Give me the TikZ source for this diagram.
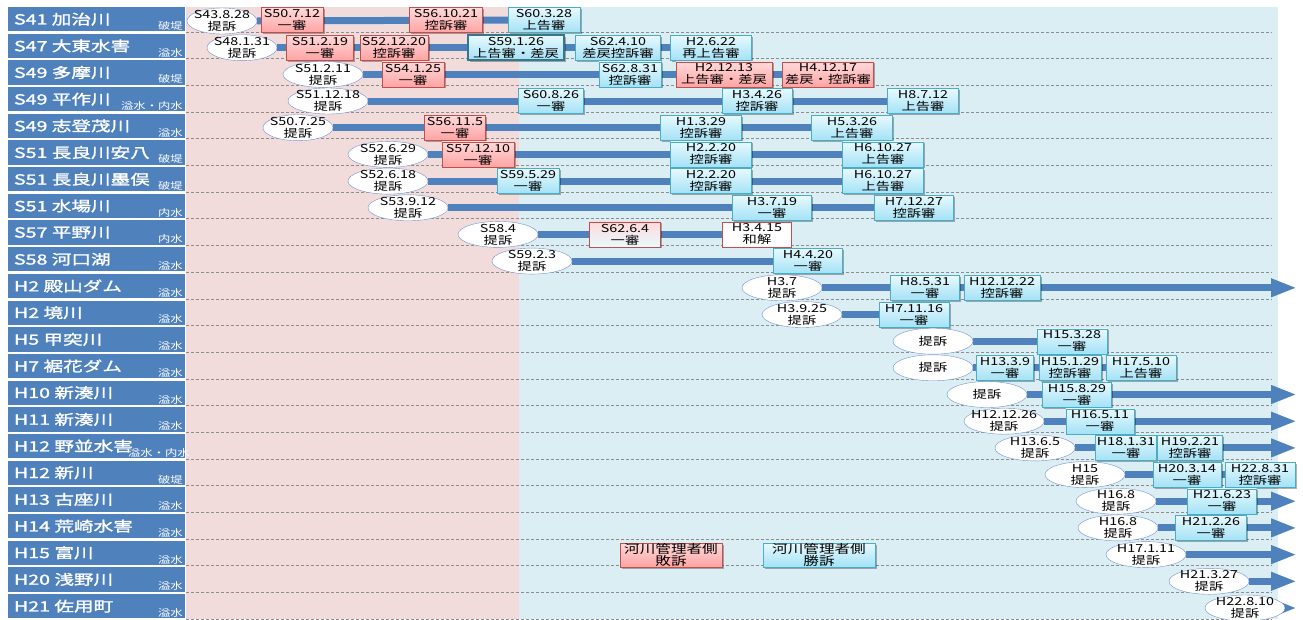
\documentclass[tikz,border=0pt]{standalone}
\usepackage{fontspec}
\usetikzlibrary{arrows.meta, positioning, shapes.geometric, shadows}
\newfontfamily\jpfont{Noto Sans CJK JP}[FakeStretch=1.3]
\newfontfamily\labfont{Noto Sans CJK JP}[FakeStretch=1.4, FakeBold=1.5]
\definecolor{labblue}{HTML}{4F81BD}
\definecolor{pinkbg}{HTML}{F2DCDB}
\definecolor{aquabg}{HTML}{DBEEF3}
\definecolor{barblue}{HTML}{4F81BD}
\definecolor{winborder}{HTML}{4BACC6}
\definecolor{wintop}{HTML}{E8F9FE}
\definecolor{winbot}{HTML}{A3E2F6}
\definecolor{loseborder}{HTML}{C0504D}
\definecolor{losetop}{HTML}{FFDADA}
\definecolor{losebot}{HTML}{FFA3A3}
\definecolor{suitedge}{HTML}{7293CF}
\definecolor{gridgray}{HTML}{8C8C8C}
\pgfdeclarelayer{back}
\pgfdeclarelayer{bars}
\pgfsetlayers{back,bars,main}

\begin{document}
\begin{tikzpicture}[x=1pt, y=-1pt,
	every node/.style={font=\jpfont\fontsize{11}{12}\selectfont, align=center, inner sep=0pt},
	suit/.style={ellipse, draw=suitedge, fill=white, minimum width=80, minimum height=26,
		label={center:{#1}}},
	win/.style={draw=winborder, top color=wintop, bottom color=winbot, minimum height=25,
		drop shadow={shadow xshift=1.5pt, shadow yshift=-1.5pt, fill=black, opacity=0.3}},
	lose/.style={draw=loseborder, top color=losetop, bottom color=losebot, minimum height=25,
		drop shadow={shadow xshift=1.5pt, shadow yshift=-1.5pt, fill=black, opacity=0.3}},
	bar/.style={draw=barblue, line width=7},
	goon/.style={-{Triangle[length=26pt, width=17pt]}},
	rowline/.style={draw=gridgray, dash pattern=on 3pt off 2pt, line width=0.6},
	labbox/.style={fill=labblue, minimum width=177, minimum height=24.3},
	labtext/.style={text=white, font=\labfont\fontsize{14}{14}\selectfont, anchor=west},
	labtype/.style={text=white, font=\jpfont\fontsize{9.5}{9.5}\selectfont, anchor=base east},
	legend/.style={font=\jpfont\fontsize{12}{11}\selectfont, minimum height=24}]
	\useasboundingbox (0,0) rectangle (1303,619);

	% period shading and row rules
	\begin{pgfonlayer}{back}
		\fill[pinkbg] (186,7) rectangle (519,619);
		\fill[aquabg] (519,7) rectangle (1278,619);
		\foreach \i in {0,...,22}
			\draw[rowline] (186,{32+26.68*\i}) -- (1272,{32+26.68*\i});
	\end{pgfonlayer}

	% case names down the left
	\foreach \nm/\tp/\tx [count=\i from 0] in {S41 加治川/破堤/183, S47 大東水害/溢水/183,
		S49 多摩川/破堤/183, S49 平作川/溢水・内水/183, S49 志登茂川/溢水/183,
		S51 長良川安八/破堤/183, S51 長良川墨俣/破堤/183, S51 水場川/内水/183,
		S57 平野川/内水/183, S58 河口湖/溢水/183, H2 殿山ダム/溢水/183,
		H2 境川/溢水/183, H5 甲突川/溢水/183, H7 裾花ダム/溢水/183,
		H10 新湊川/溢水/183, H11 新湊川/溢水/183, H12 野並水害/溢水・内水/190,
		H12 新川/破堤/183, H13 古座川/溢水/183, H14 荒崎水害/溢水/183,
		H15 富川/溢水/183, H20 浅野川/溢水/183, H21 佐用町/溢水/183} {
		\node[labbox] (lab\i) at (96.5,{19.2+26.68*\i}) {};
		\node[labtext] (nm\i) at ([xshift=6]lab\i.west) {\nm};
		\node[labtype] (tp\i) at (\tx,{29.5+26.68*\i}) {\tp};
	}

	% S41
	\node[suit={S43.8.28\\提訴}, minimum width=70] (r0e) at (222,21) {};
	\node[lose, minimum width=62] (r0b) at (292,20) {S50.7.12\\一審};
	\node[lose, minimum width=73] (r0c) at (446,20) {S56.10.21\\控訴審};
	\node[win, minimum width=72] (r0d) at (544,20) {S60.3.28\\上告審};
	% S47
	\node[suit={S48.1.31\\提訴}, minimum width=70] (r1e) at (242,47.7) {};
	\node[lose, minimum width=67] (r1b) at (320,47.7) {S51.2.19\\一審};
	\node[lose, minimum width=68] (r1c) at (394,47.7) {S52.12.20\\控訴審};
	\node[win, draw=winborder!70!black, line width=2, minimum width=96] (r1d) at (516,47.7) {S59.1.26\\上告審・差戻};
	\node[win, minimum width=85] (r1f) at (618,47.7) {S62.4.10\\差戻控訴審};
	\node[win, minimum width=81] (r1g) at (711,47.7) {H2.6.22\\再上告審};
	% S49 tama
	\node[suit={S51.2.11\\提訴}] (r2e) at (323,74.4) {};
	\node[lose, minimum width=62] (r2b) at (413,74.4) {S54.1.25\\一審};
	\node[win, minimum width=62] (r2c) at (630,74.4) {S62.8.31\\控訴審};
	\node[lose, minimum width=96] (r2d) at (724,74.4) {H2.12.13\\上告審・差戻};
	\node[lose, minimum width=91] (r2f) at (828,74.4) {H4.12.17\\差戻・控訴審};
	% S49 hirasaku
	\node[suit={S51.12.18\\提訴}] (r3e) at (328,101) {};
	\node[win, minimum width=65] (r3b) at (551,101) {S60.8.26\\一審};
	\node[win, minimum width=70] (r3c) at (757,101) {H3.4.26\\控訴審};
	\node[win, minimum width=71] (r3d) at (923,101) {H8.7.12\\上告審};
	% S49 shitomo
	\node[suit={S50.7.25\\提訴}, minimum width=70] (r4e) at (298,127.7) {};
	\node[lose, minimum width=61] (r4b) at (455,127.7) {S56.11.5\\一審};
	\node[win, minimum width=81] (r4c) at (701,127.7) {H1.3.29\\控訴審};
	\node[win, minimum width=81] (r4d) at (852,127.7) {H5.3.26\\上告審};
	% S51 anpachi
	\node[suit={S52.6.29\\提訴}] (r5e) at (388,154.4) {};
	\node[lose, minimum width=72] (r5b) at (478,154.4) {S57.12.10\\一審};
	\node[win, minimum width=81] (r5c) at (711,154.4) {H2.2.20\\控訴審};
	\node[win, minimum width=81] (r5d) at (883,154.4) {H6.10.27\\上告審};
	% S51 sunomata
	\node[suit={S52.6.18\\提訴}] (r6e) at (388,181.1) {};
	\node[win, minimum width=62] (r6b) at (528,181.1) {S59.5.29\\一審};
	\node[win, minimum width=81] (r6c) at (711,181.1) {H2.2.20\\控訴審};
	\node[win, minimum width=81] (r6d) at (883,181.1) {H6.10.27\\上告審};
	% S51 mizuba
	\node[suit={S53.9.12\\提訴}] (r7e) at (408,207.8) {};
	\node[win, minimum width=79] (r7b) at (772,207.8) {H3.7.19\\一審};
	\node[win, minimum width=79] (r7c) at (914,207.8) {H7.12.27\\控訴審};
	% S57 hirano
	\node[suit={S58.4\\提訴}] (r8e) at (498,234.4) {};
	\node[lose, bottom color=wintop, minimum width=71] (r8b) at (625,234.4) {S62.6.4\\一審};
	\node[draw=loseborder, fill=white, minimum height=25, minimum width=69] (r8c) at (757,234.4) {H3.4.15\\和解};
	% S58 kawaguchi
	\node[suit={S59.2.3\\提訴}] (r9e) at (532,261.1) {};
	\node[win, minimum width=69] (r9b) at (808,261.1) {H4.4.20\\一審};
	% H2 tonoyama
	\node[suit={H3.7\\提訴}] (r10e) at (782,287.8) {};
	\node[win, minimum width=69] (r10b) at (925,287.8) {H8.5.31\\一審};
	\node[win, minimum width=76] (r10c) at (1002,287.8) {H12.12.22\\控訴審};
	\coordinate (r10z) at (1297,287.8);
	% H2 sakai
	\node[suit={H3.9.25\\提訴}] (r11e) at (802,314.5) {};
	\node[win, minimum width=70] (r11b) at (914,314.5) {H7.11.16\\一審};
	% H5 kotsuki
	\node[suit={提訴}] (r12e) at (933,341.2) {};
	\node[win, minimum width=70] (r12b) at (1072,341.2) {H15.3.28\\一審};
	% H7 susobana
	\node[suit={提訴}] (r13e) at (933,367.8) {};
	\node[win, minimum width=57] (r13b) at (1005,367.8) {H13.3.9\\一審};
	\node[win, minimum width=62] (r13c) at (1070,367.8) {H15.1.29\\控訴審};
	\node[win, minimum width=70] (r13d) at (1141,367.8) {H17.5.10\\上告審};
	% H10 shinminato
	\node[suit={提訴}] (r14e) at (987,394.5) {};
	\node[win, minimum width=69] (r14b) at (1077,394.5) {H15.8.29\\一審};
	\coordinate (r14z) at (1297,394.5);
	% H11 shinminato
	\node[suit={H12.12.26\\提訴}] (r15e) at (1004,421.2) {};
	\node[win, minimum width=68] (r15b) at (1100,421.2) {H16.5.11\\一審};
	\coordinate (r15z) at (1297,421.2);
	% H12 nonami
	\node[suit={H13.6.5\\提訴}] (r16e) at (1035,447.9) {};
	\node[win, minimum width=61] (r16b) at (1126,447.9) {H18.1.31\\一審};
	\node[win, minimum width=65] (r16c) at (1190,447.9) {H19.2.21\\控訴審};
	\coordinate (r16z) at (1297,447.9);
	% H12 shinkawa
	\node[suit={H15\\提訴}] (r17e) at (1085,474.6) {};
	\node[win, minimum width=68] (r17b) at (1187,474.6) {H20.3.14\\一審};
	\node[win, minimum width=70] (r17c) at (1260,474.6) {H22.8.31\\控訴審};
	% H13 koza
	\node[suit={H16.8\\提訴}] (r18e) at (1116,501.2) {};
	\node[win, minimum width=69] (r18b) at (1222,501.2) {H21.6.23\\一審};
	\coordinate (r18z) at (1297,501.2);
	% H14 arasaki
	\node[suit={H16.8\\提訴}] (r19e) at (1118,527.9) {};
	\node[win, minimum width=71] (r19b) at (1211,527.9) {H21.2.26\\一審};
	\coordinate (r19z) at (1297,527.9);
	% H15 tomi
	\node[suit={H17.1.11\\提訴}] (r20e) at (1146,554.6) {};
	\coordinate (r20z) at (1297,554.6);
	% H20 asano
	\node[suit={H21.3.27\\提訴}] (r21e) at (1209,581.3) {};
	\coordinate (r21z) at (1297,581.3);
	% H21 sayo
	\node[suit={H22.8.10\\提訴}] (r22e) at (1245,608) {};
	\coordinate (r22z) at (1297,608);

	% key
	\node[lose, legend, minimum width=102] (keylose) at (671,555) {河川管理者側\\敗訴};
	\node[win, legend, minimum width=112] (keywin) at (819,555) {河川管理者側\\勝訴};

	% time bars, under the boxes
	\begin{pgfonlayer}{bars}
		\draw[bar] (r0e) -- (r0d);
		\draw[bar] (r1e) -- (r1g);
		\draw[bar] (r2e) -- (r2f);
		\draw[bar] (r3e) -- (r3d);
		\draw[bar] (r4e) -- (r4d);
		\draw[bar] (r5e) -- (r5d);
		\draw[bar] (r6e) -- (r6d);
		\draw[bar] (r7e) -- (r7c);
		\draw[bar] (r8e) -- (r8c);
		\draw[bar] (r9e) -- (r9b);
		\draw[bar, goon] (r10e) -- (r10z);
		\draw[bar] (r11e) -- (r11b);
		\draw[bar] (r12e) -- (r12b);
		\draw[bar] (r13e) -- (r13d);
		\draw[bar, goon] (r14e) -- (r14z);
		\draw[bar, goon] (r15e) -- (r15z);
		\draw[bar, goon] (r16e) -- (r16z);
		\draw[bar] (r17e) -- (r17c);
		\draw[bar, goon] (r18e) -- (r18z);
		\draw[bar, goon] (r19e) -- (r19z);
		\draw[bar, goon] (r20e) -- (r20z);
		\draw[bar, goon] (r21e) -- (r21z);
		\draw[bar, goon] (r22e) -- (r22z);
	\end{pgfonlayer}
\end{tikzpicture}
\end{document}
